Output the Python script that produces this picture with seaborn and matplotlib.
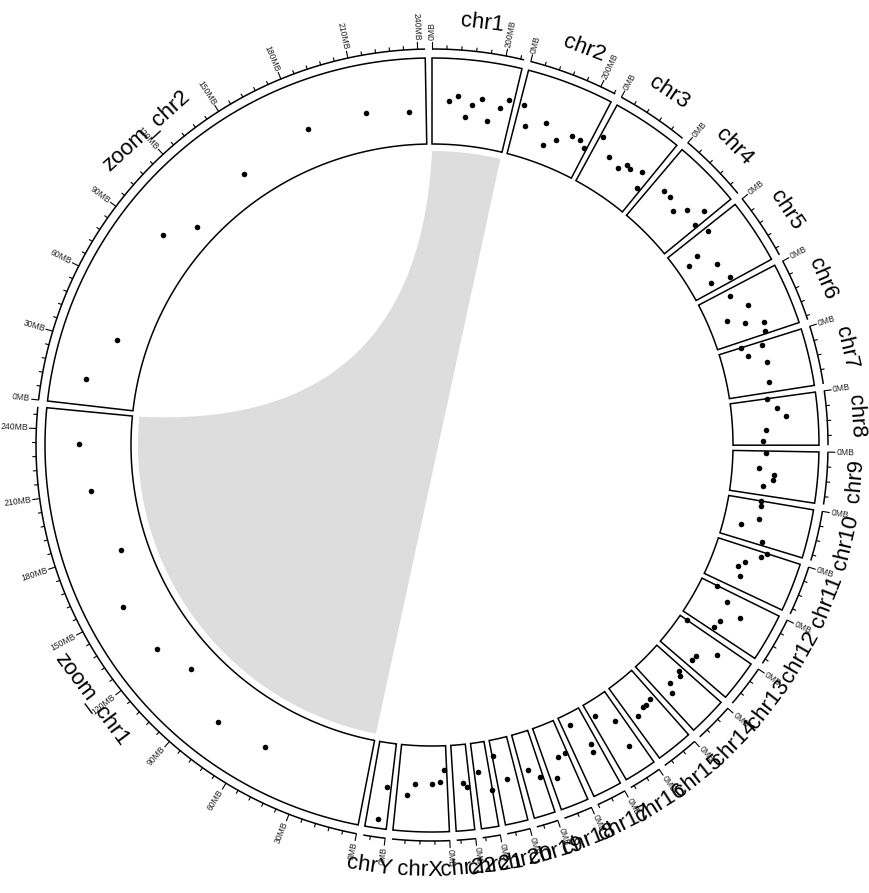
import numpy as np
import pandas as pd
import matplotlib
matplotlib.use("Agg")
import matplotlib.pyplot as plt
from matplotlib.patches import Polygon
import seaborn as sns

# chromosome sizes (hg19, MB)
chroms = ['chr1', 'chr2', 'chr3', 'chr4', 'chr5', 'chr6', 'chr7', 'chr8',
          'chr9', 'chr10', 'chr11', 'chr12', 'chr13', 'chr14', 'chr15', 'chr16',
          'chr17', 'chr18', 'chr19', 'chr20', 'chr21', 'chr22', 'chrX', 'chrY']
chrom_len = [249.25, 243.20, 198.02, 191.15, 180.92, 171.12, 159.14, 146.36,
             141.21, 135.53, 135.01, 133.85, 115.17, 107.35, 102.53, 90.35,
             81.20, 78.08, 59.13, 63.03, 48.13, 51.30, 155.27, 59.37]
zoom_chroms = ['chr1', 'chr2']

# points track: chromosome, position (MB), value
pt_chrom = (['chr1'] * 8 + ['chr2'] * 8 + ['chr3'] * 7 + ['chr4'] * 6 +
            ['chr5'] * 6 + ['chr6'] * 6 + ['chr7'] * 5 + ['chr8'] * 5 +
            ['chr9'] * 5 + ['chr10'] * 5 + ['chr11'] * 5 + ['chr12'] * 5 +
            ['chr13'] * 4 + ['chr14'] * 4 + ['chr15'] * 4 + ['chr16'] * 3 +
            ['chr17'] * 3 + ['chr18'] * 3 + ['chr19'] * 2 + ['chr20'] * 2 +
            ['chr21'] * 2 + ['chr22'] * 2 + ['chrX'] * 5 + ['chrY'] * 2)
pt_pos = [53.1, 78.4, 106.3, 124.9, 151.3, 177.8, 210.1, 233.3,
          12.5, 35.0, 92.6, 107.1, 143.8, 182.8, 213.2, 234.5,
          8.1, 55.3, 99.1, 117.2, 132.1, 168.2, 187.0,
          40.8, 67.5, 103.7, 131.5, 167.6, 182.7,
          12.8, 53.9, 66.4, 112.3, 154.8, 167.2,
          20.2, 70.6, 90.5, 118.1, 137.4, 162.8,
          1.7, 12.0, 32.6, 66.7, 127.9,
          1.9, 33.1, 60.0, 99.1, 133.9,
          7.2, 56.5, 74.7, 90.3, 112.9,
          1.0, 15.6, 58.6, 87.9, 124.6,
          0.5, 16.7, 47.6, 68.2, 95.1,
          1.0, 34.2, 58.3, 96.9, 122.5,
          1.0, 36.1, 77.4, 94.1,
          15.1, 23.2, 61.0, 80.3,
          17.8, 38.4, 51.2, 78.4,
          26.7, 34.5, 74.2,
          22.2, 28.1, 53.1,
          6.9, 32.0, 59.1,
          9.9, 40.2,
          32.3, 61.0,
          2.5, 37.0,
          8.5, 21.5,
          8.7, 22.6, 47.9, 100.1, 123.5,
          12.9, 27.0]
pt_value = [0.51, 0.57, 0.33, 0.48, 0.56, 0.32, 0.50, 0.605,
            0.59, 0.36, 0.47, 0.22, 0.33, 0.445, 0.44, 0.38,
            0.60, 0.425, 0.377, 0.465, 0.447, 0.505, 0.322,
            0.50, 0.497, 0.406, 0.527, 0.672, 0.48,
            0.564, 0.281, 0.142, 0.423, 0.25, 0.478,
            0.371, 0.522, 0.221, 0.403, 0.619, 0.593,
            0.268, 0.512, 0.313, 0.516, 0.482,
            0.435, 0.53, 0.634, 0.384, 0.352,
            0.385, 0.312, 0.495, 0.49, 0.375,
            0.383, 0.394, 0.395, 0.209, 0.50,
            0.60, 0.54, 0.39, 0.324, 0.393,
            0.20, 0.385, 0.606, 0.427, 0.407,
            0.10, 0.614, 0.435, 0.42,
            0.39, 0.443, 0.41, 0.513,
            0.393, 0.415, 0.412, 0.458,
            0.356, 0.684, 0.18,
            0.44, 0.533, 0.135,
            0.406, 0.417, 0.64,
            0.563, 0.442,
            0.483, 0.184,
            0.574, 0.343,
            0.50, 0.45,
            0.28, 0.42, 0.445, 0.45, 0.584,
            0.514, 0.898]

# layout (radii in pixels)
GAP = 1.0
R_IN, R_OUT = 301, 387
R_AXIS = 396
R_LINK = 294
R_LABEL = 425

sectors = chroms + ['zoom_' + c for c in zoom_chroms]
sec_len = chrom_len + [chrom_len[chroms.index(c)] for c in zoom_chroms]
n_norm = len(chroms)
total_deg = 360 - GAP * len(sectors)
w = np.concatenate([np.array(sec_len[:n_norm]) / sum(sec_len[:n_norm]),
                    np.array(sec_len[n_norm:]) / sum(sec_len[n_norm:])])
widths = w / w.sum() * total_deg

start, width, length = {}, {}, {}
cur = 90.0
for s, wd, ln in zip(sectors, widths, sec_len):
    start[s], width[s], length[s] = cur, wd, ln
    cur = cur - wd - GAP


def angle(s, pos):
    return start[s] - np.asarray(pos, dtype=float) / length[s] * width[s]


def polar(theta, r):
    t = np.radians(theta)
    return r * np.cos(t), r * np.sin(t)


sns.set_theme(style='white')
plt.rcParams['font.family'] = ['Liberation Sans', 'DejaVu Sans']

fig = plt.figure(figsize=(8.69, 8.93), dpi=100)
ax = fig.add_axes([0, 0, 1, 1])
ax.set_xlim(-432, 437)
ax.set_ylim(-448, 445)
ax.set_aspect('equal')
ax.axis('off')

# link between chr1 and zoom_chr1
def bezier(p0, p2, ctrl, n=100):
    t = np.linspace(0, 1, n)[:, None]
    return (1 - t) ** 2 * p0 + 2 * (1 - t) * t * ctrl + t ** 2 * p2

a1 = angle('chr1', np.linspace(0, length['chr1'], 60))
a2 = angle('zoom_chr1', np.linspace(0, length['zoom_chr1'], 200))
arc1 = np.column_stack(polar(a1, R_LINK))
arc2 = np.column_stack(polar(a2, R_LINK))
# edge chr1 end -> zoom_chr1 start: almost a diameter, straight
mid = (arc1[-1] + arc2[0]) / 2
edge1 = bezier(arc1[-1], arc2[0], mid)
# edge zoom_chr1 end -> chr1 start: curved towards the centre
p0, p2 = arc2[-1], arc1[0]
m = (p0 + p2) / 2
half = np.linalg.norm(p0 - p2) / 2
h = 0.5 * half
ctrl = m - m / np.linalg.norm(m) * 2 * h
edge2 = bezier(p0, p2, ctrl)
ax.add_patch(Polygon(np.vstack([arc1, edge1, arc2, edge2]), closed=True,
                     facecolor='#dddddd', edgecolor='none', zorder=1))

# cells of the points track
for s in sectors:
    th = np.linspace(start[s], start[s] - width[s], 80)
    xo, yo = polar(th, R_OUT)
    xi, yi = polar(th[::-1], R_IN)
    ax.add_patch(Polygon(np.column_stack([np.r_[xo, xi], np.r_[yo, yi]]),
                         closed=True, facecolor='none', edgecolor='black',
                         linewidth=1.1, zorder=2))

# points (zoomed sectors repeat the data of their chromosome)
df = pd.DataFrame({'chrom': pt_chrom, 'pos': pt_pos, 'value': pt_value})
rows = []
for s in sectors:
    src = s.replace('zoom_', '')
    sub = df[df['chrom'] == src]
    th = angle(s, sub['pos'])
    r = R_IN + sub['value'].to_numpy() * (R_OUT - R_IN)
    x, y = polar(th, r)
    rows.append(pd.DataFrame({'x': x, 'y': y, 'sector': s}))
pts = pd.concat(rows, ignore_index=True)
sns.scatterplot(data=pts, x='x', y='y', color='black', s=16, linewidth=0,
                ax=ax, legend=False, zorder=3)

# genomic axis with ticks and labels
for s in sectors:
    major_by = 30 if s.startswith('zoom_') else 200
    th = np.linspace(start[s], start[s] - width[s], 80)
    ax.plot(*polar(th, R_AXIS), color='black', linewidth=1.1,
            solid_capstyle='butt', zorder=2)
    ticks = np.arange(0, length[s] + 1e-6, major_by / 5)
    for v in ticks:
        is_major = abs(v / major_by - round(v / major_by)) < 1e-6
        tl = 7 if is_major else 3.5
        t = angle(s, v)
        ax.plot(*polar(np.array([t, t]), np.array([R_AXIS, R_AXIS + tl])),
                color='black', linewidth=0.8, zorder=2)
        if is_major:
            lx, ly = polar(t, R_AXIS + tl + 1.5)
            if np.cos(np.radians(t)) >= 0:
                rot, ha = t, 'left'
            else:
                rot, ha = t - 180, 'right'
            ax.text(lx, ly, f'{int(round(v))}MB', rotation=rot, ha=ha,
                    va='center', rotation_mode='anchor', fontsize=6.2,
                    color='#222222')
    tm = start[s] - width[s] / 2
    lx, ly = polar(tm, R_LABEL)
    rot = tm - 90
    if np.sin(np.radians(tm)) < 0:
        rot += 180
    ax.text(lx, ly, s, rotation=rot, ha='center', va='center',
            rotation_mode='anchor', fontsize=16, color='black')

fig.savefig('out.png', dpi=100)
